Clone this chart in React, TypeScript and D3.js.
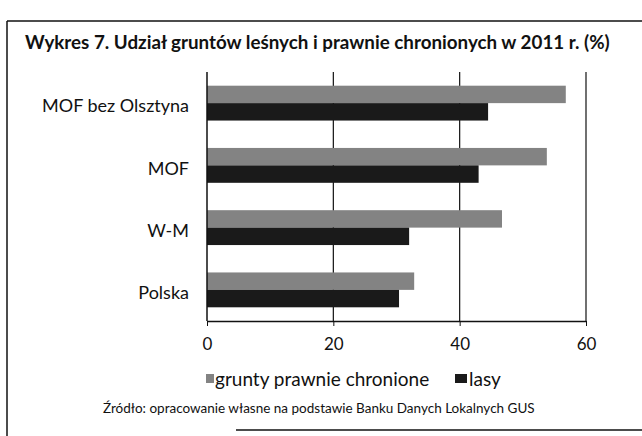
import React, { useEffect, useRef } from 'react';
import * as d3 from 'd3';

const categories = ['MOF bez Olsztyna', 'MOF', 'W-M', 'Polska'];
const chronione = [56.8, 53.8, 46.7, 32.8];
const lasy = [44.5, 43.0, 32.0, 30.4];
const ticks = [0, 20, 40, 60];
const seriesNames = ['grunty prawnie chronione', 'lasy'];
const colors = ['#838383', '#1a1a1a'];

const font = 'Lato, "Open Sans", sans-serif';

const App = () => {
  const ref = useRef<SVGSVGElement>(null);

  useEffect(() => {
    const svg = d3.select(ref.current);
    svg.selectAll('*').remove();
    const width = 642;
    const height = 436;
    const m = { top: 72, left: 207, right: 56, bottom: 115 };

    svg.attr('width', width).attr('height', height);

    // scanned frame: top and left edge, part of the bottom
    const frame = svg.append('g').attr('stroke', '#111').attr('stroke-width', 1.5);
    frame.append('line').attr('x1', 7).attr('x2', width).attr('y1', 21).attr('y2', 21);
    frame.append('line').attr('x1', 7).attr('x2', 7).attr('y1', 21).attr('y2', height);
    frame.append('line').attr('x1', 236).attr('x2', width).attr('y1', 430).attr('y2', 430);

    svg.append('text')
      .attr('x', 25).attr('y', 49)
      .attr('font-family', font).attr('font-size', 18.8).attr('font-weight', 'bold')
      .attr('fill', '#111')
      .text('Wykres 7. Udział gruntów leśnych i prawnie chronionych w 2011 r. (%)');

    const x = d3.scaleLinear().domain([0, 60]).range([m.left, width - m.right]);
    const y = d3.scaleBand().domain(categories).range([m.top, height - m.bottom]).paddingInner(0.44).paddingOuter(0.22);
    const sub = d3.scaleBand().domain(seriesNames).range([0, y.bandwidth()]);

    const g = svg.append('g');

    // grid
    g.selectAll('line.grid')
      .data(ticks.slice(1))
      .enter()
      .append('line')
      .attr('x1', (d) => x(d)).attr('x2', (d) => x(d))
      .attr('y1', m.top).attr('y2', height - m.bottom)
      .attr('stroke', '#111').attr('stroke-width', 1.2);

    const series = [chronione, lasy];
    series.forEach((vals, si) => {
      g.selectAll(`rect.s${si}`)
        .data(vals)
        .enter()
        .append('rect')
        .attr('x', x(0))
        .attr('y', (d, i) => (y(categories[i]) as number) + (sub(seriesNames[si]) as number))
        .attr('width', (d) => x(d) - x(0))
        .attr('height', sub.bandwidth())
        .attr('fill', colors[si]);
    });

    // y axis line
    g.append('line')
      .attr('x1', x(0)).attr('x2', x(0))
      .attr('y1', m.top).attr('y2', height - m.bottom)
      .attr('stroke', '#111').attr('stroke-width', 1.5);

    const xAxis = g.append('g')
      .attr('transform', `translate(0, ${height - m.bottom})`)
      .call(d3.axisBottom(x).tickValues(ticks).tickSize(5).tickSizeOuter(0).tickPadding(12));
    xAxis.select('.domain').attr('stroke', '#111').attr('stroke-width', 1.5);
    xAxis.selectAll('.tick line').attr('stroke', '#111');
    xAxis.selectAll('text')
      .attr('font-family', font).attr('font-size', 17).attr('fill', '#111');

    g.selectAll('text.cat')
      .data(categories)
      .enter()
      .append('text')
      .attr('x', 189)
      .attr('y', (d) => (y(d) as number) + y.bandwidth() / 2 + 3)
      .attr('dy', '0.35em')
      .attr('text-anchor', 'end')
      .attr('font-family', font).attr('font-size', 18).attr('fill', '#111')
      .text((d) => d);

    // legend
    const legend = svg.append('g').attr('transform', 'translate(0, 379)');
    const legendX = [206, 455];
    seriesNames.forEach((name, i) => {
      legend.append('rect')
        .attr('x', legendX[i]).attr('y', -5)
        .attr('width', i === 0 ? 8 : 12).attr('height', 9)
        .attr('fill', colors[i]);
      legend.append('text')
        .attr('x', legendX[i] + (i === 0 ? 9 : 14)).attr('y', 0)
        .attr('dy', '0.35em')
        .attr('font-family', font).attr('font-size', 19).attr('fill', '#111')
        .text(name);
    });

    svg.append('text')
      .attr('x', 103).attr('y', 413)
      .attr('font-family', font).attr('font-size', 13.5).attr('fill', '#111')
      .text('Źródło: opracowanie własne na podstawie Banku Danych Lokalnych GUS');
  }, []);

  return <svg ref={ref} style={{ position: 'absolute', left: 0, top: 0, background: '#fff' }} />;
};

export default App;
